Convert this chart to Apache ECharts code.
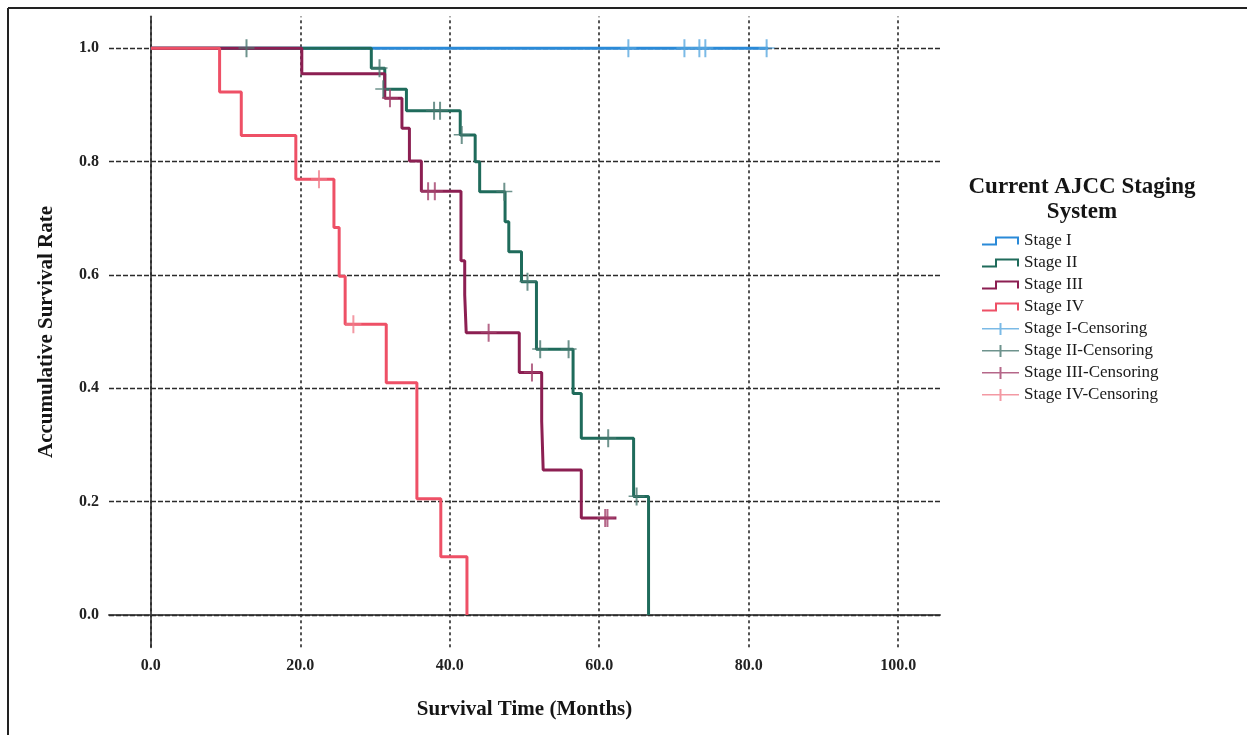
<!DOCTYPE html>
<html lang="en">
<head>
    <meta charset="UTF-8">
    <title>Kaplan-Meier - AJCC Staging</title>
    <script src="https://cdn.jsdelivr.net/npm/echarts@6.0.0/dist/echarts.min.js"></script>
    <style>
        html, body { margin: 0; padding: 0; background: #fff; }
        #chart { width: 1247px; height: 735px; }
    </style>
</head>
<body>
    <div id="chart"></div>
    <script>
    // 刻度
    const xTicks = [0, 20, 40, 60, 80, 100];
    const yTicks = [0, 0.2, 0.4, 0.6, 0.8, 1.0];

    // 各分期生存曲线 (时间 = 下降时刻, 生存率 = 下降后的值)
    const stage1Time = [0, 82.6];
    const stage1Surv = [1, 1];
    const stage2Time = [0, 29.5, 31.3, 34.2, 41.4, 43.4, 44.0, 47.4, 47.9, 49.6, 51.6, 56.5, 57.6, 64.6, 66.6];
    const stage2Surv = [1, 0.965, 0.928, 0.890, 0.847, 0.800, 0.747, 0.694, 0.641, 0.588, 0.469, 0.391, 0.312, 0.209, 0];
    const stage3Time = [0, 20.2, 31.3, 33.6, 34.6, 36.2, 41.5, 42.0, 42.2, 49.3, 52.3, 52.5, 57.6, 62.3];
    const stage3Surv = [1, 0.955, 0.912, 0.859, 0.801, 0.748, 0.625, 0.565, 0.498, 0.428, 0.342, 0.256, 0.171, 0.171];
    const stage4Time = [0, 9.2, 12.1, 19.4, 24.5, 25.2, 26.0, 31.5, 35.6, 38.8, 42.3];
    const stage4Surv = [1, 0.923, 0.846, 0.769, 0.684, 0.598, 0.513, 0.410, 0.205, 0.103, 0];

    // 删失点
    const cens1Time = [63.9, 71.4, 73.4, 74.2, 82.4];
    const cens1Surv = [1, 1, 1, 1, 1];
    const cens2Time = [12.8, 30.6, 31.1, 37.9, 38.7, 41.6, 47.3, 50.4, 52.1, 55.9, 61.2, 65.0];
    const cens2Surv = [1, 0.965, 0.928, 0.890, 0.890, 0.847, 0.747, 0.588, 0.469, 0.469, 0.312, 0.209];
    const cens3Time = [32.0, 37.1, 38.0, 45.2, 51.0, 60.8, 61.1];
    const cens3Surv = [0.912, 0.748, 0.748, 0.498, 0.428, 0.171, 0.171];
    const cens4Time = [22.5, 27.1];
    const cens4Surv = [0.769, 0.513];

    const stageNames = ['Stage I', 'Stage II', 'Stage III', 'Stage IV'];
    const censNames = ['Stage I-Censoring', 'Stage II-Censoring', 'Stage III-Censoring', 'Stage IV-Censoring'];
    const lineColors = ['#2a8ad8', '#1f6b5b', '#8c1f52', '#ee5066'];
    const censColors = ['#5aa9e0', '#4a7870', '#a3416b', '#f07f8c'];

    function zip(xs, ys) {
        return xs.map((x, i) => [x, ys[i]]);
    }

    const stepIcon = 'path://M0,7 L13,7 L13,0 L37,0 L37,8 L35,8 L35,2 L15,2 L15,9 L0,9 Z';
    const crossIcon = 'path://M0,5 L17.5,5 L17.5,0 L19.5,0 L19.5,5 L37,5 L37,6.5 L19.5,6.5 L19.5,12 L17.5,12 L17.5,6.5 L0,6.5 Z';
    const censSymbol = 'path://M7,0 L9,0 L9,8 L16,8 L16,9.5 L9,9.5 L9,18 L7,18 L7,9.5 L0,9.5 L0,8 L7,8 Z';

    const serif = '"Liberation Serif", "Times New Roman", serif';

    const stageTimes = [stage1Time, stage2Time, stage3Time, stage4Time];
    const stageSurvs = [stage1Surv, stage2Surv, stage3Surv, stage4Surv];
    const censTimes = [cens1Time, cens2Time, cens3Time, cens4Time];
    const censSurvs = [cens1Surv, cens2Surv, cens3Surv, cens4Surv];

    const series = [];
    stageNames.forEach((name, i) => {
        const s = {
            name: name,
            type: 'line',
            step: 'end',
            symbol: 'none',
            data: zip(stageTimes[i], stageSurvs[i]),
            lineStyle: { color: lineColors[i], width: 3 },
            itemStyle: { color: lineColors[i] },
            z: 3 + i
        };
        if (i === 0) {
            // 网格虚线
            s.markLine = {
                silent: true,
                symbol: 'none',
                z: 1,
                label: { show: false },
                data: xTicks.map(v => ({ xAxis: v, lineStyle: { color: '#2b2b2b', width: 1.6, type: [3, 3] } }))
                    .concat(yTicks.map(v => ({ yAxis: v, lineStyle: { color: '#2b2b2b', width: 1.4, type: [5, 2] } })))
            };
        }
        series.push(s);
    });
    censNames.forEach((name, i) => {
        series.push({
            name: name,
            type: 'scatter',
            symbol: censSymbol,
            symbolSize: [16, 18],
            data: zip(censTimes[i], censSurvs[i]),
            itemStyle: { color: censColors[i] },
            z: 8
        });
    });

    const chart = echarts.init(document.getElementById('chart'));
    chart.setOption({
        animation: false,
        backgroundColor: '#fff',
        grid: { left: 109, top: 16.6, width: 831, height: 630.7, containLabel: false },
        xAxis: {
            type: 'value',
            min: -5.6,
            max: 105.6,
            name: 'Survival Time (Months)',
            nameLocation: 'middle',
            nameGap: 52,
            nameTextStyle: { fontFamily: serif, fontWeight: 'bold', fontSize: 21, color: '#151515' },
            axisLine: { show: true, lineStyle: { color: '#555', width: 2 } },
            axisTick: { show: false },
            splitLine: { show: false },
            axisLabel: {
                customValues: xTicks,
                formatter: v => v.toFixed(1),
                fontFamily: serif, fontWeight: 'bold', fontSize: 16, color: '#222', margin: 11
            }
        },
        yAxis: {
            type: 'value',
            min: -0.057,
            max: 1.056,
            name: 'Accumulative Survival Rate',
            nameLocation: 'middle',
            nameGap: 52,
            nameTextStyle: { fontFamily: serif, fontWeight: 'bold', fontSize: 21, color: '#151515' },
            axisLine: { show: true, lineStyle: { color: '#555', width: 2 } },
            axisTick: { show: false },
            splitLine: { show: false },
            axisLabel: {
                customValues: yTicks,
                formatter: v => v.toFixed(1),
                fontFamily: serif, fontWeight: 'bold', fontSize: 16, color: '#222', margin: 10
            }
        },
        legend: {
            orient: 'vertical',
            left: 977,
            top: 227,
            itemWidth: 37,
            itemHeight: 12,
            itemGap: 4,
            itemStyle: { borderWidth: 0 },
            textStyle: { fontFamily: serif, fontSize: 17, lineHeight: 18, color: '#1a1a1a' },
            data: stageNames.map(n => ({ name: n, icon: stepIcon }))
                .concat(censNames.map(n => ({ name: n, icon: crossIcon })))
        },
        graphic: [
            {
                type: 'text',
                x: 1082,
                y: 175,
                style: {
                    text: 'Current AJCC Staging\nSystem',
                    textAlign: 'center',
                    textVerticalAlign: 'top',
                    font: 'bold 23px ' + serif,
                    lineHeight: 25,
                    fill: '#151515'
                }
            },
            { type: 'line', shape: { x1: 8, y1: 8, x2: 1247, y2: 8 }, style: { stroke: '#222', lineWidth: 2 } },
            { type: 'line', shape: { x1: 8, y1: 8, x2: 8, y2: 735 }, style: { stroke: '#222', lineWidth: 2 } }
        ],
        series: series
    });
    </script>
</body>
</html>
